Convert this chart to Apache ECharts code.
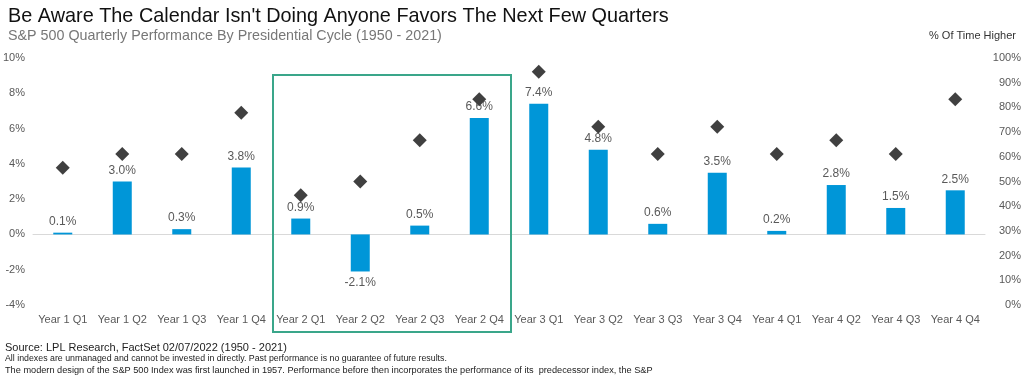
<!DOCTYPE html>
<html><head><meta charset="utf-8">
<script src="https://cdn.jsdelivr.net/npm/echarts@6/dist/echarts.min.js"></script>
<style>html,body{margin:0;padding:0;background:#fff}#c{width:1024px;height:381px}</style>
</head><body><div id="c"></div>
<script>
const categories = ['Year 1 Q1','Year 1 Q2','Year 1 Q3','Year 1 Q4','Year 2 Q1','Year 2 Q2','Year 2 Q3','Year 2 Q4','Year 3 Q1','Year 3 Q2','Year 3 Q3','Year 3 Q4','Year 4 Q1','Year 4 Q2','Year 4 Q3','Year 4 Q4'];
const avgReturn = [0.1, 3.0, 0.3, 3.8, 0.9, -2.1, 0.5, 6.6, 7.4, 4.8, 0.6, 3.5, 0.2, 2.8, 1.5, 2.5];
const pctHigher = [55.6, 61.1, 61.1, 77.8, 44.4, 50.0, 66.7, 83.3, 94.4, 72.2, 61.1, 72.2, 61.1, 66.7, 61.1, 83.3];
const title = "Be Aware The Calendar Isn't Doing Anyone Favors The Next Few Quarters";
const subtitle = "S&P 500 Quarterly Performance By Presidential Cycle (1950 - 2021)";
const rightAxisName = "% Of Time Higher";
const footer = [
  "Source: LPL Research, FactSet 02/07/2022 (1950 - 2021)",
  "All indexes are unmanaged and cannot be invested in directly. Past performance is no guarantee of future results.",
  "The modern design of the S&P 500 Index was first launched in 1957. Performance before then incorporates the performance of its  predecessor index, the S&P"
];

const chart = echarts.init(document.getElementById('c'));
const F = 'Liberation Sans, Arial, sans-serif';
const FN = 'Liberation Sans Narrow, sans-serif';
const gray = '#595959';
chart.setOption({
  animation: false,
  textStyle: {fontFamily: F},
  grid: {left: 33, right: 38, top: 58, bottom: 76},
  xAxis: {
    type: 'category', data: categories,
    axisLine: {show: true, onZero: true, lineStyle: {color: '#d9d9d9', width: 1}},
    axisTick: {show: false},
    axisLabel: {interval: 0, color: gray, fontSize: 11, margin: 9, fontFamily: F}
  },
  yAxis: [
    {type: 'value', min: -4, max: 10, interval: 2, position: 'left',
     splitLine: {show: false}, axisLine: {show: false}, axisTick: {show: false},
     axisLabel: {color: gray, fontSize: 11, margin: 8, formatter: v => v + '%', fontFamily: F}},
    {type: 'value', min: 0, max: 100, interval: 10, position: 'right',
     splitLine: {show: false}, axisLine: {show: false}, axisTick: {show: false},
     axisLabel: {color: gray, fontSize: 11, margin: 36, align: 'right', formatter: v => v + '%', fontFamily: F}}
  ],
  series: [
    {type: 'bar', yAxisIndex: 0, barWidth: 19,
     data: avgReturn.map(v => ({value: v, label: {position: v < 0 ? 'bottom' : 'top'}})),
     itemStyle: {color: '#0096D8'},
     label: {show: true, distance: 5, color: gray, fontSize: 12, fontFamily: F,
       formatter: p => p.value.toFixed(1) + '%'},
     labelLayout: {hideOverlap: false}},
    {type: 'scatter', yAxisIndex: 1, data: pctHigher, symbol: 'diamond', symbolSize: 14,
     itemStyle: {color: '#404040', opacity: 1}, z: 5}
  ],
  graphic: [
    {type: 'text', left: 8, top: 7, style: {text: title, font: '19.85px ' + F, fill: '#111'}},
    {type: 'text', left: 8, top: 29, style: {text: subtitle, font: '14.3px ' + F, fill: '#777'}},
    {type: 'text', right: 8, top: 30, style: {text: rightAxisName, font: '11px ' + F, fill: '#333'}},
    {type: 'rect', shape: {x: 273, y: 75, width: 238, height: 257}, style: {fill: 'none', stroke: '#3AA68A', lineWidth: 2}, z: 10},
    {type: 'text', left: 5, top: 342, style: {text: footer[0], font: '11px ' + FN, fill: '#222'}},
    {type: 'text', left: 5, top: 354.5, style: {text: footer[1], font: '8.8px ' + FN, fill: '#222'}},
    {type: 'text', left: 5, top: 366, style: {text: footer[2], font: '9.2px ' + FN, fill: '#222'}}
  ]
});
</script></body></html>
